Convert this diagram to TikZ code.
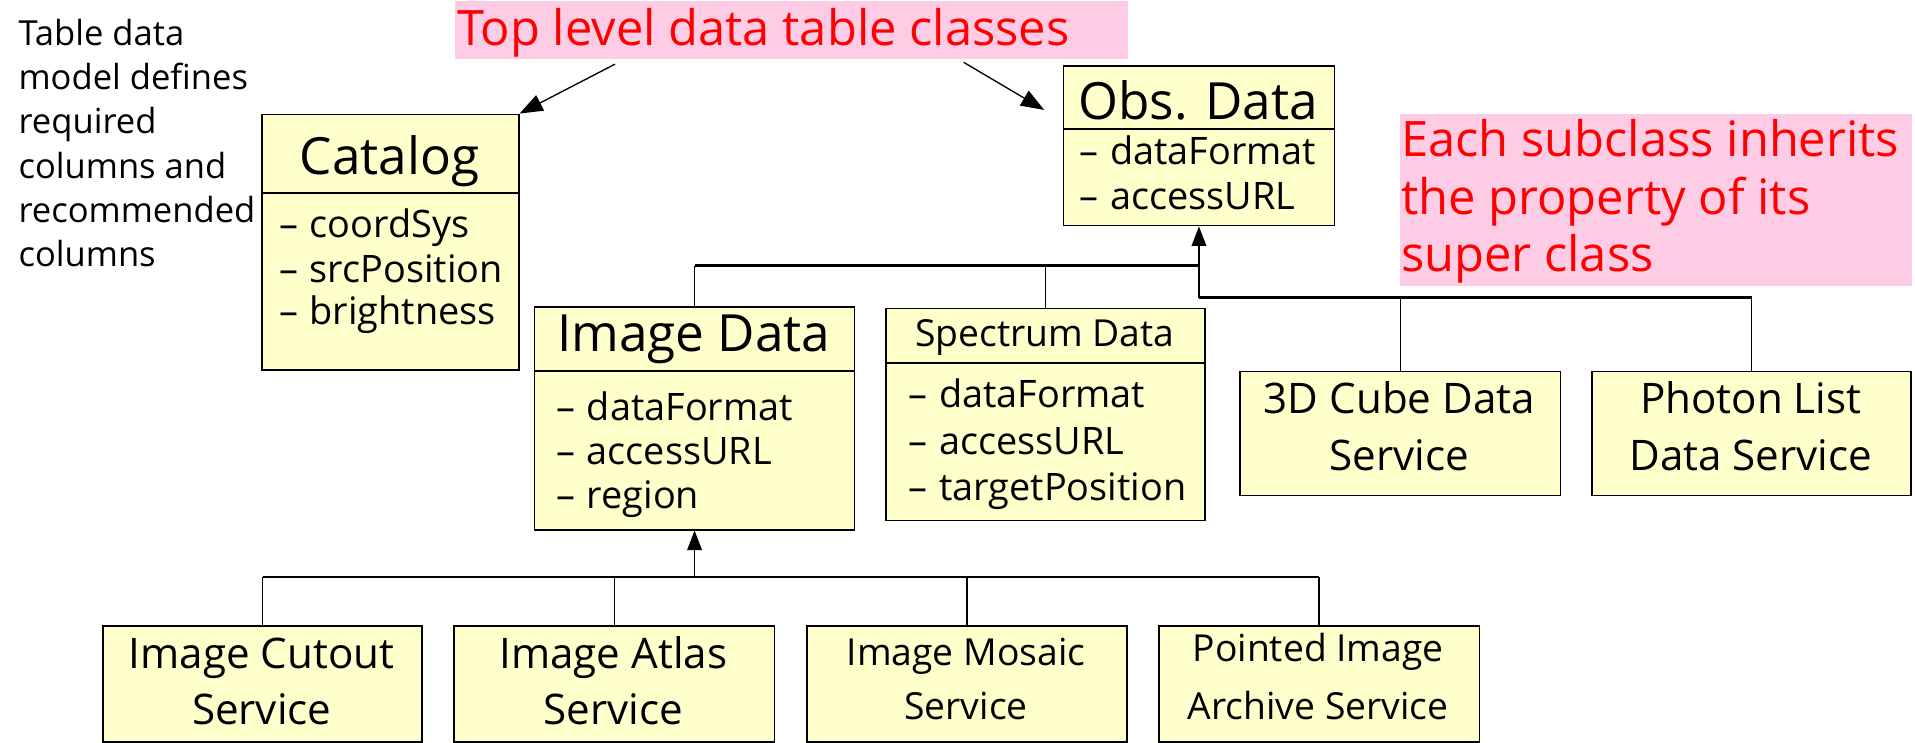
\documentclass[tikz,border=0pt]{standalone}
\usepackage{fontspec}
\setmainfont{Open Sans}
\usetikzlibrary{arrows.meta}
\definecolor{boxfill}{HTML}{FFFFCC}
\definecolor{pinkbg}{HTML}{FFCCE6}
\definecolor{redtxt}{HTML}{FF0000}
\newcommand\szTitle{\fontsize{42pt}{50pt}\selectfont}
\newcommand\szItem{\fontsize{31pt}{36pt}\selectfont}
\newcommand\szNote{\fontsize{28.3pt}{36pt}\selectfont}
\newcommand\szRed{\fontsize{40pt}{47pt}\selectfont}
\newcommand\szSvc{\fontsize{34.5pt}{40pt}\selectfont}
\newcommand\szSmall{\fontsize{30.5pt}{36pt}\selectfont}
\newcommand\itm[1]{–\hspace{0.3em}#1}
\begin{document}
\begin{tikzpicture}[x=1pt,y=-1pt,
  box/.style={draw=black, line width=1.4pt, fill=boxfill, inner sep=0, anchor=north west},
  pinkbox/.style={fill=pinkbg, inner sep=0, anchor=north west},
  divider/.style={line width=1.4pt},
  lt/.style={inner sep=0, anchor=base west},
  ct/.style={inner sep=0, anchor=base},
  conn/.style={line width=1.1pt},
  bus/.style={line width=2pt},
  inh/.style={line width=1.1pt, -{Triangle[length=16pt,width=12pt]}},
  ptr/.style={line width=1.1pt, -{Triangle[length=19pt,width=14pt]}}]
\useasboundingbox[fill=white] (0,0) rectangle (1568,608);

% left note
\node[lt, font=\szNote] (n1) at (15,37) {Table data};
\node[lt, font=\szNote] (n2) at (15,73.5) {model defines};
\node[lt, font=\szNote] (n3) at (15,109.5) {required};
\node[lt, font=\szNote] (n4) at (15,146) {columns and};
\node[lt, font=\szNote] (n5) at (15,182) {recommended};
\node[lt, font=\szNote] (n6) at (15,218.5) {columns};

% pink callouts
\node[pinkbox, minimum width=551pt, minimum height=47pt] (p1) at (372,1) {};
\node[lt, font=\szRed, text=redtxt] (p1t) at (374,37) {Top level data table classes};
\node[pinkbox, minimum width=419pt, minimum height=141pt] (p2) at (1146,93) {};
\node[lt, font=\szRed, text=redtxt] (p2a) at (1147,128.5) {Each subclass inherits};
\node[lt, font=\szRed, text=redtxt] (p2b) at (1147,176) {the property of its};
\node[lt, font=\szRed, text=redtxt] (p2c) at (1147,222.5) {super class};

% Catalog
\node[box, minimum width=210pt, minimum height=209pt] (cat) at (214,93) {};
\draw[divider] (cat.west |- 0,158) -- (cat.east |- 0,158);
\node[ct, font=\szTitle] (catT) at (319,143) {Catalog};
\node[lt, font=\szItem] (cat1) at (228.5,194.5) {\itm{coordSys}};
\node[lt, font=\szItem] (cat2) at (228.5,231.5) {\itm{srcPosition}};
\node[lt, font=\szItem] (cat3) at (228.5,266) {\itm{brightness}};

% Obs. Data
\node[box, minimum width=222pt, minimum height=130.5pt] (obs) at (870,53.5) {};
\draw[divider] (obs.west |- 0,105.5) -- (obs.east |- 0,105.5);
\node[ct, font=\szTitle] (obsT) at (981,98) {Obs. Data};
\node[lt, font=\szItem] (obs1) at (884,135) {\itm{dataFormat}};
\node[lt, font=\szItem] (obs2) at (884,171.5) {\itm{accessURL}};

% Image Data
\node[box, minimum width=262pt, minimum height=182.5pt] (img) at (437,250.5) {};
\draw[divider] (img.west |- 0,303.5) -- (img.east |- 0,303.5);
\node[ct, font=\szTitle] (imgT) at (568,288) {Image Data};
\node[lt, font=\szItem] (img1) at (455.5,344) {\itm{dataFormat}};
\node[lt, font=\szItem] (img2) at (455.5,380) {\itm{accessURL}};
\node[lt, font=\szItem] (img3) at (455.5,416.5) {\itm{region}};

% Spectrum Data
\node[box, minimum width=261pt, minimum height=173.5pt] (spec) at (725,252) {};
\draw[divider] (spec.west |- 0,297) -- (spec.east |- 0,297);
\node[ct, font=\szSmall] (specT) at (855.5,284) {Spectrum Data};
\node[lt, font=\szItem] (spec1) at (744,334) {\itm{dataFormat}};
\node[lt, font=\szItem] (spec2) at (744,372.5) {\itm{accessURL}};
\node[lt, font=\szItem] (spec3) at (744,409.5) {\itm{targetPosition}};

% 3D cube and photon list
\node[box, minimum width=262.4pt, minimum height=101.5pt] (cube) at (1014.6,303.5) {};
\node[ct, font=\szSvc] (cubeA) at (1145.8,338.5) {3D Cube Data};
\node[ct, font=\szSvc] (cubeB) at (1145.8,385) {Service};
\node[box, minimum width=261pt, minimum height=101.5pt] (phot) at (1303,303.5) {};
\node[ct, font=\szSvc] (photA) at (1433.5,338.5) {Photon List};
\node[ct, font=\szSvc] (photB) at (1433.5,385) {Data Service};

% bottom services
\node[box, minimum width=261.4pt, minimum height=95pt] (cut) at (83.6,511.7) {};
\node[ct, font=\szSvc] (cutA) at (214.3,547) {Image Cutout};
\node[ct, font=\szSvc] (cutB) at (214.3,593.5) {Service};
\node[box, minimum width=262.4pt, minimum height=95pt] (atl) at (371,511.7) {};
\node[ct, font=\szSvc] (atlA) at (502.2,547) {Image Atlas};
\node[ct, font=\szSvc] (atlB) at (502.2,593.5) {Service};
\node[box, minimum width=262pt, minimum height=95pt] (mos) at (660,511.7) {};
\node[ct, font=\szSmall] (mosA) at (791,544.5) {Image Mosaic};
\node[ct, font=\szSmall] (mosB) at (791,589.5) {Service};
\node[box, minimum width=262.7pt, minimum height=95pt] (pnt) at (948,511.7) {};
\node[ct, font=\szSmall] (pntA) at (1079.3,542) {Pointed Image};
\node[ct, font=\szSmall] (pntB) at (1079.3,589.5) {Archive Service};

% pointer arrows from the callout
\coordinate (a1) at (503.6,52.5);
\draw[ptr] (a1) -- (cat.north east);
\coordinate (a2) at (789,51);
\coordinate (a2e) at (855,90);
\draw[ptr] (a2) -- (a2e);

% inheritance tree under Obs. Data
\coordinate (ob1) at (obs.south |- 0,217.5);
\coordinate (ob2) at (obs.south |- 0,243.7);
\draw[inh] (ob2) -- (obs.south);
\draw[bus] (img.north |- ob1) -- (ob1);
\draw[conn] (img.north |- ob1) -- (img.north);
\draw[conn] (spec.north |- ob1) -- (spec.north);
\draw[bus] (ob2) -- (phot.north |- ob2);
\draw[conn] (cube.north |- ob2) -- (cube.north);
\draw[conn] (phot.north |- ob2) -- (phot.north);

% inheritance tree under Image Data
\coordinate (ib) at (img.south |- 0,472.5);
\draw[inh] (ib) -- (img.south);
\draw[bus] (cut.north |- ib) -- (pnt.north |- ib);
\draw[conn] (cut.north |- ib) -- (cut.north);
\draw[conn] (atl.north |- ib) -- (atl.north);
\draw[conn] (mos.north |- ib) -- (mos.north);
\draw[conn] (pnt.north |- ib) -- (pnt.north);
\end{tikzpicture}
\end{document}
